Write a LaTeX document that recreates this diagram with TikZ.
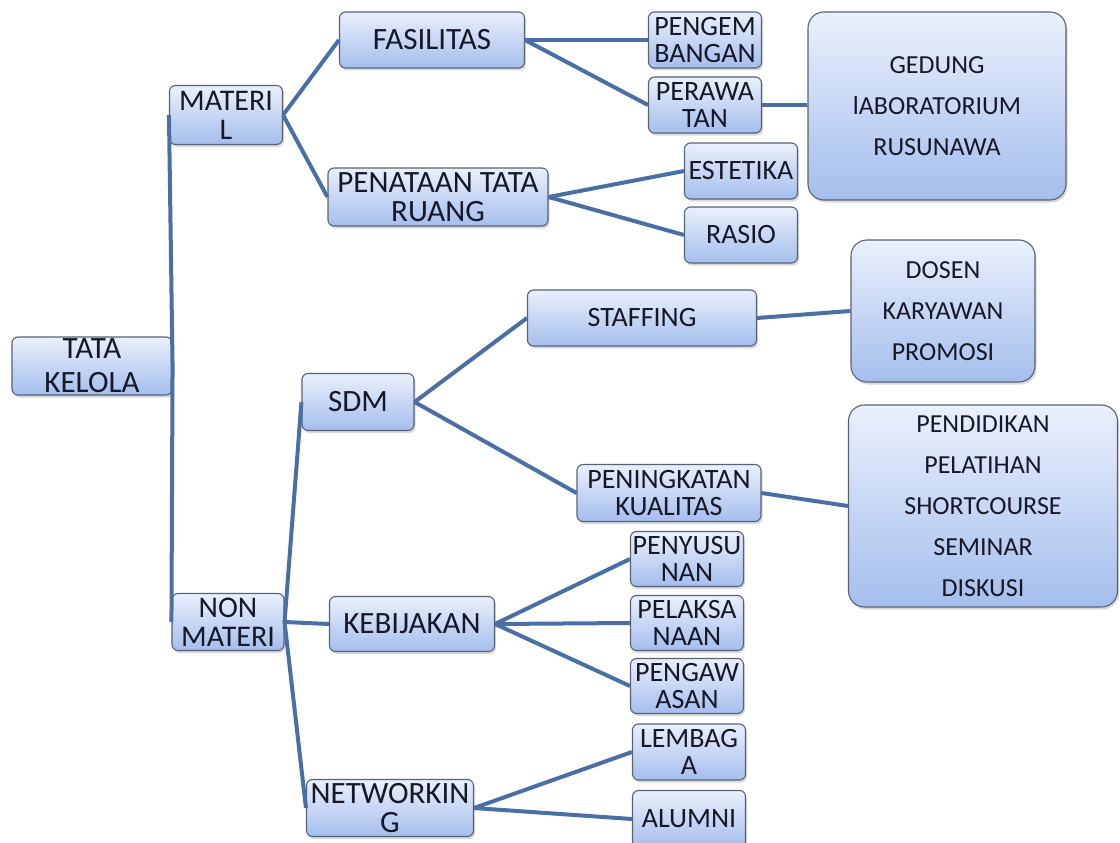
\documentclass[tikz,border=0pt]{standalone}
\usepackage{fontspec}
\setmainfont{Carlito}
\usetikzlibrary{shadows}
\definecolor{boxtop}{RGB}{234,240,252}
\definecolor{boxbot}{RGB}{164,190,236}
\definecolor{boxline}{RGB}{88,98,118}
\definecolor{link}{RGB}{74,111,165}
\definecolor{ink}{RGB}{22,24,40}

\begin{document}
\begin{tikzpicture}[x=1pt, y=-1pt,
  box/.style={draw=boxline, line width=1.1pt, rounded corners=6pt,
    top color=boxtop, bottom color=boxbot, align=center, inner sep=0pt,
    text=ink, font=\fontsize{28}{27}\selectfont,
    drop shadow={opacity=0.3, shadow xshift=1.5pt, shadow yshift=-2.5pt}},
  big/.style={box, font=\fontsize{31}{29}\selectfont},
  leaf/.style={box, minimum width=113pt, minimum height=56pt},
  list/.style={box, rounded corners=16pt, font=\fontsize{26}{41}\selectfont},
  link/.style={draw=link, line width=4pt}]

\useasboundingbox (0,0) rectangle (1120,843);

% level 0 and 1
\node[box, minimum width=160pt, minimum height=58pt, font=\fontsize{31}{34}\selectfont]
  (tata) at (92,366) {TATA\\KELOLA};
\node[box, minimum width=113pt, minimum height=59pt, font=\fontsize{30}{29}\selectfont]
  (materi) at (226,115) {MATERI\\L};
\node[box, minimum width=112pt, minimum height=57pt, font=\fontsize{30}{29}\selectfont]
  (nonmateri) at (228,622) {NON\\MATERI};

% materi branch
\node[big, minimum width=185pt, minimum height=56pt] (fasilitas) at (432,40) {FASILITAS};
\node[big, minimum width=220pt, minimum height=58pt] (penataan) at (438,197) {PENATAAN TATA\\RUANG};
\node[leaf] (pengembangan) at (705,40) {PENGEM\\BANGAN};
\node[leaf] (perawatan) at (705,105) {PERAWA\\TAN};
\node[leaf] (estetika) at (741,171) {ESTETIKA};
\node[leaf] (rasio) at (741,235) {RASIO};
\node[list, minimum width=258pt, minimum height=188pt] (gedung) at (937,106)
  {GEDUNG\\lABORATORIUM\\RUSUNAWA};

% non materi branch
\node[big, minimum width=112pt, minimum height=57pt] (sdm) at (358,402) {SDM};
\node[box, minimum width=229pt, minimum height=56pt] (staffing) at (642,318) {STAFFING};
\node[box, minimum width=184pt, minimum height=57pt] (kualitas) at (669,493) {PENINGKATAN\\KUALITAS};
\node[list, minimum width=184pt, minimum height=142pt] (pegawai) at (943,311)
  {DOSEN\\KARYAWAN\\PROMOSI};
\node[list, minimum width=269pt, minimum height=202pt] (pelatihan) at (983,506)
  {PENDIDIKAN\\PELATIHAN\\SHORTCOURSE\\SEMINAR\\DISKUSI};

\node[big, minimum width=165pt, minimum height=55pt] (kebijakan) at (412,624) {KEBIJAKAN};
\node[leaf, minimum height=55pt] (penyusunan) at (687,559) {PENYUSU\\NAN};
\node[leaf, minimum height=55pt] (pelaksanaan) at (687,623) {PELAKSA\\NAAN};
\node[leaf, minimum height=55pt] (pengawasan) at (687,686) {PENGAW\\ASAN};

\node[big, minimum width=167pt, minimum height=57pt] (networking) at (390,808) {NETWORKIN\\G};
\node[leaf] (lembaga) at (689,752) {LEMBAG\\A};
\node[leaf, minimum height=57pt] (alumni) at (689,819) {ALUMNI};

% connectors
\draw[link] (tata.east) -- (materi.west);
\draw[link] (tata.east) -- (nonmateri.west);

\draw[link] (materi.east) -- (fasilitas.west);
\draw[link] (materi.east) -- (penataan.west);
\draw[link] (fasilitas.east) -- (pengembangan.west);
\draw[link] (fasilitas.east) -- (perawatan.west);
\draw[link] (perawatan.east) -- (gedung.west |- perawatan.east);
\draw[link] (penataan.east) -- (estetika.west);
\draw[link] (penataan.east) -- (rasio.west);

\draw[link] (nonmateri.east) -- (sdm.west);
\draw[link] (nonmateri.east) -- (kebijakan.west);
\draw[link] (nonmateri.east) -- (networking.west);
\draw[link] (sdm.east) -- (staffing.west);
\draw[link] (sdm.east) -- (kualitas.west);
\draw[link] (staffing.east) -- (pegawai.west);
\draw[link] (kualitas.east) -- (pelatihan.west);
\draw[link] (kebijakan.east) -- (penyusunan.west);
\draw[link] (kebijakan.east) -- (pelaksanaan.west);
\draw[link] (kebijakan.east) -- (pengawasan.west);
\draw[link] (networking.east) -- (lembaga.west);
\draw[link] (networking.east) -- (alumni.west);

\end{tikzpicture}
\end{document}
